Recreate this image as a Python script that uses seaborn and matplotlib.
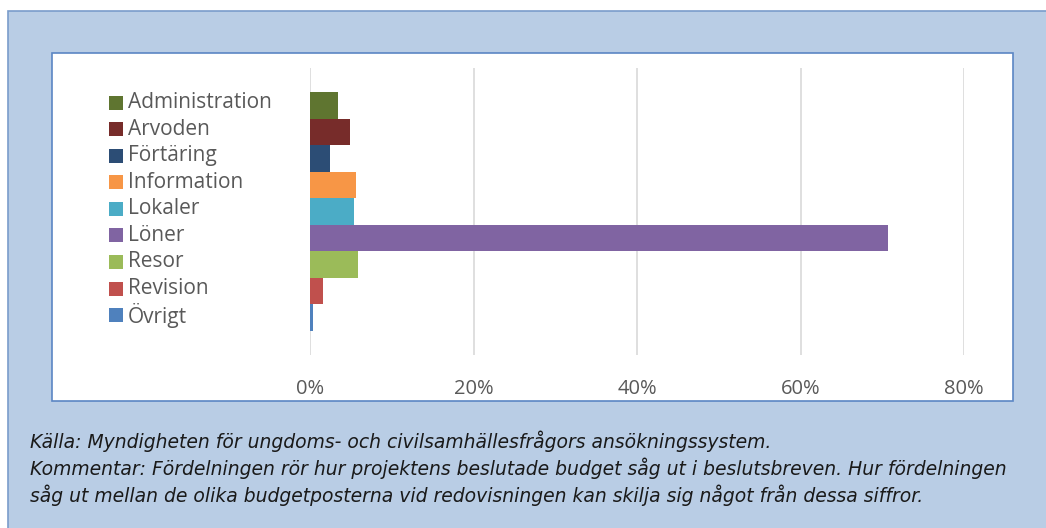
import matplotlib
matplotlib.use("Agg")
import matplotlib.pyplot as plt
from matplotlib.patches import Rectangle
import matplotlib.transforms as mtransforms
import seaborn as sns

# data (share of budget, %)
kategorier = ['Administration', 'Arvoden', 'Förtäring', 'Information', 'Lokaler',
              'Löner', 'Resor', 'Revision', 'Övrigt']
andel = [3.4, 4.9, 2.4, 5.6, 5.4, 70.7, 5.9, 1.6, 0.4]
farger = ['#5F7530', '#772C2A', '#2C4D75', '#F79646', '#4BACC6',
          '#8064A2', '#9BBB59', '#C0504D', '#4F81BD']
xticks = [0, 20, 40, 60, 80]
xticklabels = ['0%', '20%', '40%', '60%', '80%']
fotnot = ['Källa: Myndigheten för ungdoms- och civilsamhällesfrågors ansökningssystem.',
          'Kommentar: Fördelningen rör hur projektens beslutade budget såg ut i beslutsbreven. Hur fördelningen',
          'såg ut mellan de olika budgetposterna vid redovisningen kan skilja sig något från dessa siffror.']

sns.set_theme(style='white')
plt.rcParams['font.family'] = ['Open Sans', 'DejaVu Sans']

W, H = 1046, 528
fig = plt.figure(figsize=(W / 100, H / 100), dpi=100)
fig.patch.set_facecolor('white')


def px_rect(x0, y0, x1, y1, **kw):
    # rectangle given in pixel coords from top-left
    r = Rectangle((x0 / W, 1 - y1 / H), (x1 - x0) / W, (y1 - y0) / H,
                  transform=fig.transFigure, zorder=-5, **kw)
    fig.patches.append(r)


# outer light blue frame and inner white chart box
px_rect(8, 11, 1052, 535, facecolor='#B9CDE5', edgecolor='#7A9CCB', linewidth=1.2)
px_rect(52, 53, 1013, 401, facecolor='white', edgecolor='#5B86C4', linewidth=1.2)

ax = fig.add_axes([310 / W, 1 - 355 / H, 654 / W, 287 / H])
ax.set_zorder(3)
ax.set_facecolor('none')

sns.barplot(x=andel, y=kategorier, hue=kategorier, palette=farger, width=1.0,
            saturation=1, legend=False, linewidth=0, ax=ax)

ax.set_xlim(0, 80)
ax.set_ylim(9.404, -1.404)
ax.set_xticks(xticks)
ax.set_xticklabels(xticklabels, fontsize=14.5, color='#595959')
ax.tick_params(axis='x', length=0, pad=17)
ax.set_yticks([])
ax.set_xlabel('')
ax.set_ylabel('')
ax.grid(axis='x', color='#D9D9D9', linewidth=1.2)
ax.set_axisbelow(True)
for s in ax.spines.values():
    s.set_visible(False)

# legend drawn next to each bar
trans = mtransforms.blended_transform_factory(ax.transAxes, ax.transData)
for i, (namn, f) in enumerate(zip(kategorier, farger)):
    ax.scatter([-0.2966], [i - 0.1], marker='s', s=90, color=f, transform=trans,
               clip_on=False, linewidths=0)
    ax.text(-0.278, i - 0.1, namn, transform=trans, fontsize=15, color='#595959',
            va='center', ha='left', clip_on=False)

for j, rad in enumerate(fotnot):
    fig.text(30 / W, 1 - (441 + 27 * j) / H, rad, fontsize=13.5, style='italic',
             family='DejaVu Sans', color='#1A1A1A', va='center', ha='left')

fig.savefig('out.png', dpi=100)
